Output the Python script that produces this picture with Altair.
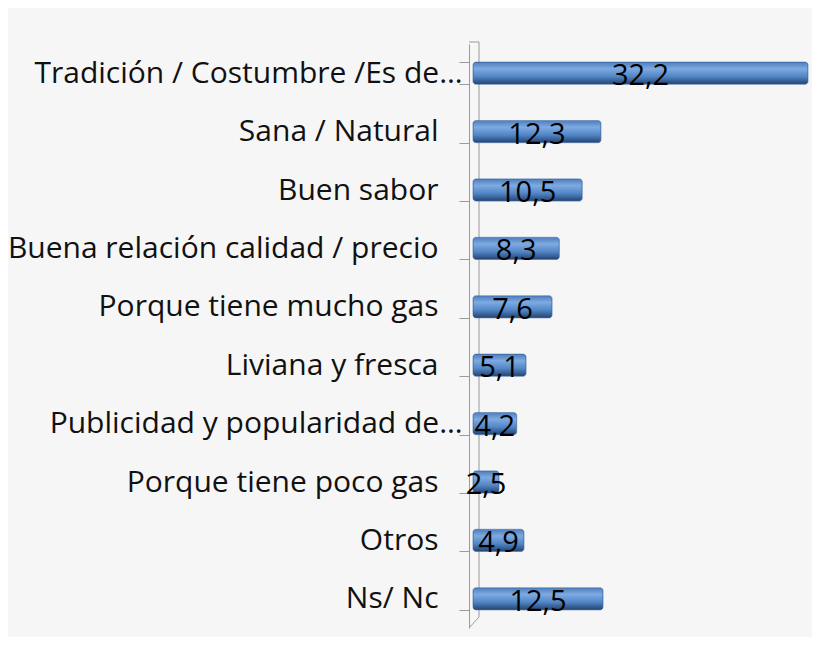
import altair as alt
import pandas as pd

categories = [
    "Tradición / Costumbre /Es de…",
    "Sana / Natural",
    "Buen sabor",
    "Buena relación calidad / precio",
    "Porque tiene mucho gas",
    "Liviana y fresca",
    "Publicidad y popularidad de…",
    "Porque tiene poco gas",
    "Otros",
    "Ns/ Nc",
]
values = [32.2, 12.3, 10.5, 8.3, 7.6, 5.1, 4.2, 2.5, 4.9, 12.5]

df = pd.DataFrame({
    "cat": categories,
    "val": values,
    "label": [f"{v:.1f}".replace(".", ",") for v in values],
})

W, H = 335, 584
FONT = "Open Sans"

y_enc = alt.Y("cat:N", sort=categories, title=None,
              scale=alt.Scale(paddingInner=0.62, paddingOuter=0.31),
              axis=alt.Axis(offset=4, tickBand="extent", tickSize=10,
                            tickColor="#9a9a9a", domainColor="#9a9a9a",
                            labelFont=FONT, labelFontSize=30, labelColor="#111111",
                            labelPadding={"condition": {"test": "indexof(datum.label, '…') >= 0", "value": -3}, "value": 21},
                            labelLimit=470))
x_enc = alt.X("val:Q", scale=alt.Scale(domain=[0, 32.2], nice=False), axis=None, title=None)

grad = alt.Gradient(
    gradient="linear", x1=0, y1=0, x2=0, y2=1,
    stops=[
        alt.GradientStop(offset=0, color="#4d7dbb"),
        alt.GradientStop(offset=0.3, color="#7eaae2"),
        alt.GradientStop(offset=0.65, color="#5286c6"),
        alt.GradientStop(offset=1, color="#24426e"),
    ],
)

bars = alt.Chart(df).mark_bar(color=grad, cornerRadius=3, stroke="#3d6aa3", strokeWidth=0.6).encode(
    y=y_enc, x=x_enc
)

text = alt.Chart(df).mark_text(font=FONT, fontSize=29, color="#000000", dy=3).encode(
    y=alt.Y("cat:N", sort=categories),
    x=alt.X("mid:Q", scale=alt.Scale(domain=[0, 32.2], nice=False)),
    text="label:N",
).transform_calculate(mid="datum.val / 2")

wall_df = pd.DataFrame({"k": ["a"]})
back_line = alt.Chart(wall_df).mark_rule(color="#9a9a9a", strokeWidth=1).encode(
    x=alt.value(6), y=alt.value(-2), y2=alt.value(H - 11)
)
top_line = alt.Chart(wall_df).mark_rule(color="#9a9a9a", strokeWidth=1).encode(
    x=alt.value(-4), x2=alt.value(6), y=alt.value(-2)
)
diag_line = alt.Chart(wall_df).mark_rule(color="#9a9a9a", strokeWidth=1).encode(
    x=alt.value(6), x2=alt.value(-4), y=alt.value(H - 11), y2=alt.value(H)
)

chart = alt.layer(back_line, top_line, diag_line, bars, text).properties(
    width=W, height=H,
    background="#f6f6f6",
    autosize=alt.AutoSizeParams(type="none"),
    padding={"left": 465, "top": 36, "right": 4, "bottom": 9},
).configure_view(stroke=None)

chart.save("out.html", embed_options={"renderer": "svg", "actions": False})
